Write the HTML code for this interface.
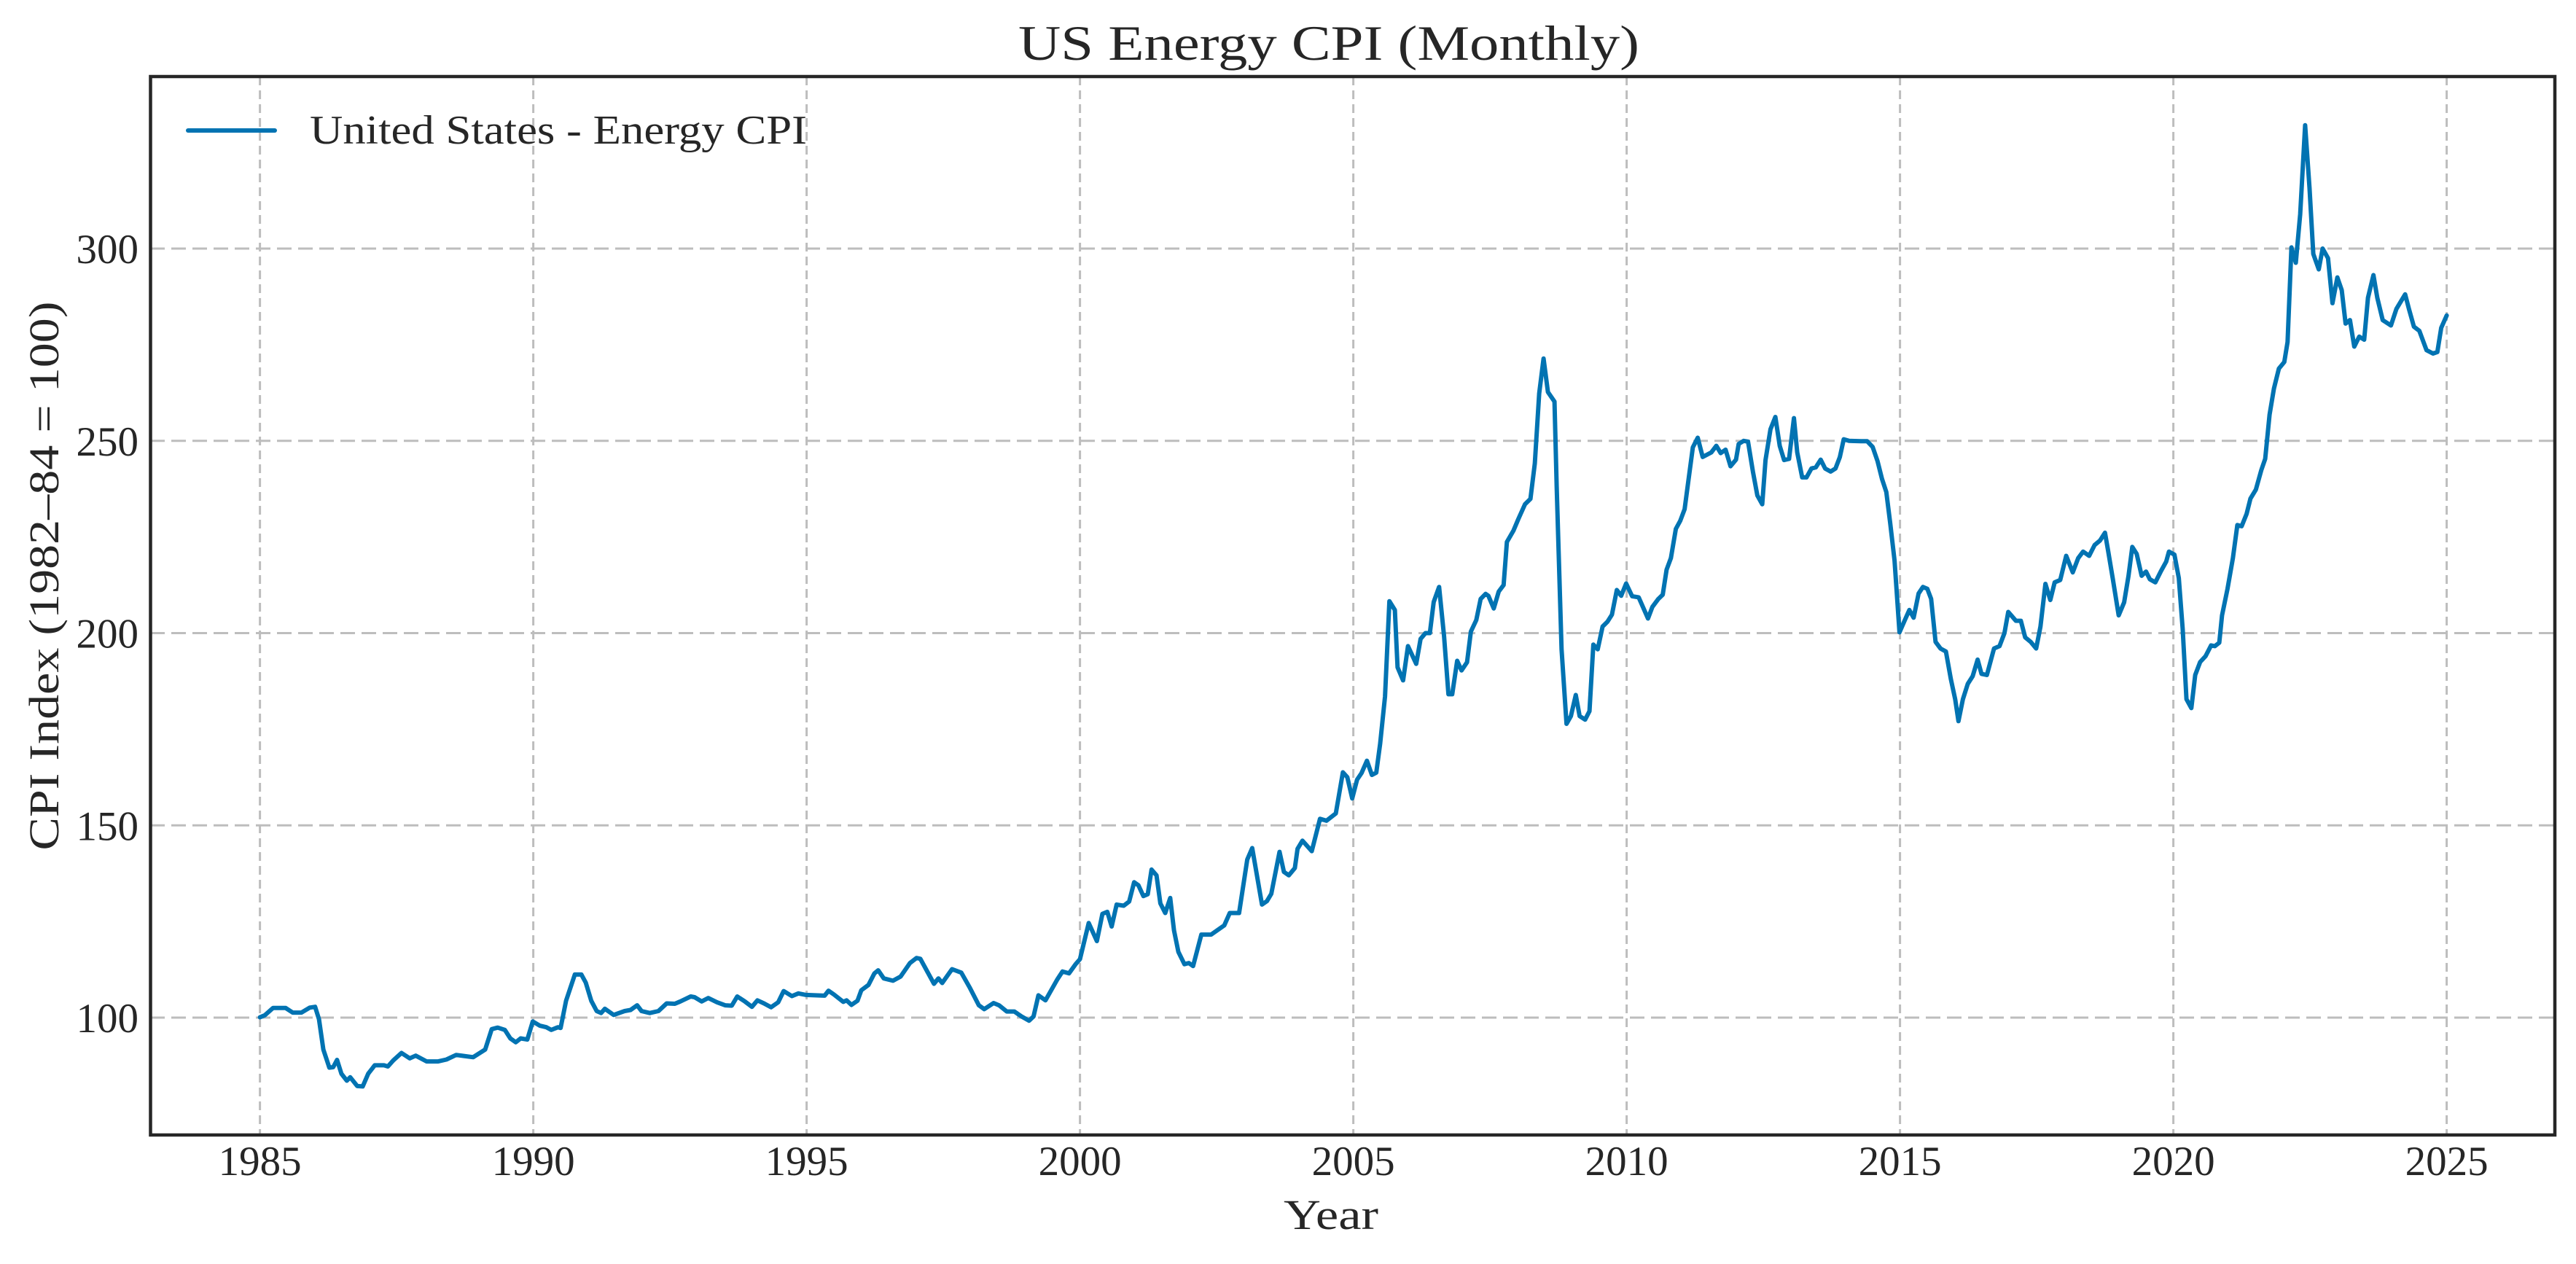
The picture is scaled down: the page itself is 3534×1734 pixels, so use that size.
<!DOCTYPE html>
<html><head><meta charset="utf-8"><style>
html,body{margin:0;padding:0;background:#fff;}
svg{display:block;font-family:"Liberation Serif",serif;}
</style></head><body>
<svg id="chart" width="3534" height="1734" viewBox="0 0 3534 1734" xmlns="http://www.w3.org/2000/svg">
<rect width="3534" height="1734" fill="#fff"/>
<g id="grid"></g>
<g id="ticks"></g>
<path id="series" fill="none" stroke="#0173b2" stroke-width="6" stroke-linejoin="round" stroke-linecap="round"/>
<rect x="206.5" y="105" width="3298.5" height="1452" fill="none" stroke="#262626" stroke-width="4.5"/>
<text x="1823" y="82" font-size="68" text-anchor="middle" fill="#262626" textLength="852" lengthAdjust="spacingAndGlyphs">US Energy CPI (Monthly)</text>
<text x="1826" y="1686" font-size="58" text-anchor="middle" fill="#262626" textLength="130" lengthAdjust="spacingAndGlyphs">Year</text>
<text x="0" y="0" font-size="58" text-anchor="middle" fill="#262626" textLength="753" lengthAdjust="spacingAndGlyphs" transform="translate(80,790) rotate(-90)">CPI Index (1982–84 = 100)</text>
<g>
<line x1="258" y1="179" x2="377" y2="179" stroke="#0173b2" stroke-width="6" stroke-linecap="round"/>
<text x="425" y="197" font-size="56" fill="#262626" textLength="682" lengthAdjust="spacingAndGlyphs">United States - Energy CPI</text>
</g>
</svg>
<script>
const dates = [1985.0,1985.09,1985.24,1985.47,1985.6,1985.76,1985.91,1986.01,1986.08,1986.16,1986.27,1986.34,1986.41,1986.49,1986.59,1986.65,1986.78,1986.88,1986.98,1987.1,1987.27,1987.34,1987.44,1987.59,1987.74,1987.85,1988.05,1988.26,1988.41,1988.59,1988.9,1989.12,1989.24,1989.35,1989.48,1989.58,1989.68,1989.77,1989.89,1989.99,1990.12,1990.24,1990.33,1990.45,1990.5,1990.6,1990.76,1990.88,1990.96,1991.06,1991.16,1991.24,1991.31,1991.47,1991.67,1991.78,1991.9,1991.98,1992.13,1992.29,1992.44,1992.59,1992.69,1992.88,1992.95,1993.08,1993.2,1993.36,1993.51,1993.63,1993.73,1993.87,1994.0,1994.1,1994.22,1994.35,1994.48,1994.58,1994.73,1994.85,1994.99,
1995.33,1995.4,1995.5,1995.67,1995.73,1995.82,1995.93,1996.0,1996.13,1996.24,1996.31,1996.41,1996.58,1996.72,1996.89,1997.01,1997.08,1997.33,1997.41,1997.48,1997.66,1997.83,1997.98,1998.15,1998.25,1998.42,1998.52,1998.66,1998.8,1998.93,1999.07,1999.15,1999.24,1999.37,1999.58,1999.68,1999.8,1999.92,2000.0,2000.16,2000.31,2000.41,2000.5,2000.58,2000.67,2000.8,2000.9,2000.99,2001.07,2001.16,2001.24,2001.31,2001.4,2001.47,2001.56,2001.65,2001.72,2001.8,2001.91,2001.99,2002.07,2002.22,2002.4,2002.64,2002.74,2002.91,2003.06,2003.15,2003.33,2003.42,2003.5,2003.65,2003.73,2003.82,2003.93,2003.98,2004.07,2004.24,2004.39,2004.51,2004.68,2004.81,2004.89,2004.98,
2005.07,2005.15,2005.25,2005.34,2005.42,2005.49,2005.58,2005.66,2005.76,2005.81,2005.91,2006.0,2006.15,2006.23,2006.32,2006.4,2006.47,2006.57,2006.66,2006.74,2006.81,2006.9,2006.98,2007.08,2007.15,2007.25,2007.33,2007.42,2007.47,2007.57,2007.66,2007.75,2007.81,2007.93,2008.02,2008.14,2008.24,2008.32,2008.4,2008.48,2008.56,2008.68,2008.72,2008.81,2008.9,2008.98,2009.07,2009.14,2009.24,2009.32,2009.39,2009.47,2009.56,2009.65,2009.73,2009.82,2009.9,2009.99,2010.1,2010.22,2010.39,2010.47,2010.58,2010.66,2010.73,2010.81,2010.9,2010.98,2011.06,2011.13,2011.21,2011.3,2011.39,2011.55,2011.64,2011.72,2011.81,2011.9,2012.0,2012.05,2012.14,2012.22,2012.31,2012.39,2012.48,2012.54,2012.63,2012.72,2012.8,2012.88,2012.97,2013.06,2013.12,2013.21,2013.29,2013.38,2013.46,2013.55,2013.63,2013.73,2013.82,2013.9,2013.97,
2014.07,2014.29,2014.4,2014.5,2014.59,2014.67,2014.75,2014.82,2014.9,2014.99,2015.09,2015.17,2015.25,2015.34,2015.42,2015.5,2015.57,2015.65,2015.74,2015.84,2015.93,2016.01,2016.07,2016.15,2016.24,2016.33,2016.42,2016.49,2016.59,2016.72,2016.82,2016.91,2016.98,2017.12,2017.21,2017.29,2017.39,2017.49,2017.57,2017.66,2017.75,2017.83,2017.93,2018.04,2018.16,2018.26,2018.35,2018.46,2018.56,2018.66,2018.75,2018.81,2018.89,2019.0,2019.1,2019.18,2019.25,2019.33,2019.42,2019.5,2019.57,2019.67,2019.77,2019.87,2019.92,2020.02,2020.1,2020.17,2020.24,2020.33,2020.4,2020.49,2020.59,2020.69,2020.76,2020.84,2020.89,2020.99,2021.09,2021.17,2021.25,2021.34,2021.41,2021.51,2021.61,2021.68,2021.76,2021.84,2021.93,2022.03,2022.09,2022.16,2022.24,2022.32,2022.41,2022.49,2022.56,2022.66,2022.73,2022.83,2022.91,2023.0,2023.08,2023.15,2023.23,2023.31,2023.4,2023.49,2023.56,2023.66,2023.73,2023.83,2023.98,2024.08,2024.24,2024.31,2024.4,2024.5,2024.63,2024.75,2024.83,2024.9,2025.0];
const values = [100.1,100.6,102.5,102.5,101.3,101.3,102.6,102.8,99.6,91.7,87,87.1,89,85.4,83.6,84.5,82.2,82.1,85.4,87.6,87.6,87.3,88.9,90.8,89.4,90.1,88.6,88.6,89.1,90.3,89.7,91.7,97,97.4,96.8,94.6,93.6,94.6,94.3,99,97.9,97.5,96.8,97.5,97.3,104.4,111.2,111.2,109.1,104.4,101.7,101.2,102.3,100.7,101.7,102,103.2,101.7,101.2,101.7,103.7,103.6,104.2,105.5,105.3,104.2,105.1,104,103.2,103.1,105.5,104.2,102.8,104.5,103.7,102.7,104,106.9,105.6,106.3,105.9,
105.7,107,106,104.1,104.5,103.3,104.4,107.1,108.5,111.5,112.3,110.2,109.6,110.7,114.2,115.5,115.3,108.8,110.2,109,112.6,111.7,107.9,103.2,102.2,103.8,103.2,101.6,101.6,100.3,99.2,100.3,105.8,104.5,109.8,112,111.5,113.9,115.2,124.6,119.9,127,127.5,123.7,129.4,129.1,130.2,135.2,134.4,131.6,132.1,138.5,137,129.7,127.2,131.1,122.7,117.1,113.9,114.2,113.4,121.6,121.6,124,127.2,127.2,141.1,144.1,129.4,130.3,132.2,143.1,137.9,137,138.9,143.9,146,143.3,151.7,151.2,153.1,163.8,162.5,157,
161.9,163.6,166.8,163.1,163.7,171.2,183.5,208.3,206,191.1,187.7,196.6,192,198.5,200,200,208.1,212,199.2,184.1,184.1,192.8,190.3,192.4,200.4,203.4,208.9,210.2,209.7,206.4,210.8,212.5,223.7,226.7,229.7,233.5,234.9,244.1,262.3,271.4,262.7,260.2,238.1,195.8,176.4,178.4,183.9,178.4,177.5,179.7,197,195.8,201.7,203,204.8,211.2,209.7,212.9,209.6,209.3,203.8,206.8,208.9,210,216.5,219.5,227.1,229.2,232.2,239.8,248.3,250.8,245.8,247,248.7,246.8,247.7,243.4,245.1,249.2,250,249.8,242,235.8,233.5,245,253,256.2,248.7,245,245.3,255.9,247,240.5,240.5,242.8,243.1,245.1,242.8,242,242.8,245.8,250.4,
250,249.9,249.9,248.4,244.7,240.1,236.7,228.7,218.9,200.2,203.4,206,204,210.3,212,211.5,208.9,197.7,196,195.2,188,182.8,177.1,182.8,186.8,188.8,193.1,189.4,189.1,196,196.6,200,205.5,203.2,203.2,198.9,197.7,196,201.7,212.8,208.6,213.2,213.8,220.1,215.8,219.5,221.2,220.1,222.9,224.1,226.1,221.2,214.3,204.6,208,214.9,222.4,220.6,214.9,216,214,213.2,216,218.6,221.2,220.4,214.3,201.1,182.8,180.5,189.1,192.5,194,196.8,196.6,197.5,204.6,211.5,219.5,228.1,227.8,231,235,237.3,242.4,245.3,256.8,263.6,268.8,270.5,275.7,300.3,296.3,308.9,332.1,315.8,298.6,294.6,300,297.5,285.8,292.5,289.2,280.5,281.4,274.5,277.1,276.3,287.2,293.1,287.2,281.4,280,284.3,288.1,284.3,279.7,278.6,273.6,272.7,273.1,279.4,282.6];
const xTicks = [1985,1990,1995,2000,2005,2010,2015,2020,2025];
const yTicks = [100,150,200,250,300];

const NS = "http://www.w3.org/2000/svg";
function xs(yr){ return 356.6 + (yr - 1985) * 75.0; }
function ys(v){ return 1396 - (v - 100) * 5.275; }
const grid = document.getElementById('grid');
const ticks = document.getElementById('ticks');
xTicks.forEach(t => {
  const l = document.createElementNS(NS,'line');
  
  
  l.setAttribute('x1', xs(t)); l.setAttribute('x2', xs(t));
  l.setAttribute('y1', 105); l.setAttribute('y2', 1557);
  l.setAttribute('stroke', '#bdbdbd'); l.setAttribute('stroke-width', 3); l.setAttribute('stroke-dasharray', '12 7');
  grid.appendChild(l);
  const tx = document.createElementNS(NS,'text');
  
  
  tx.setAttribute('x', xs(t)); tx.setAttribute('y', 1612);
  tx.setAttribute('font-size', 57); tx.setAttribute('text-anchor', 'middle'); tx.setAttribute('fill', '#262626');
  tx.textContent = t;
  ticks.appendChild(tx);
});
yTicks.forEach(t => {
  const l = document.createElementNS(NS,'line');
  
  
  l.setAttribute('x1', 206); l.setAttribute('x2', 3505);
  l.setAttribute('y1', ys(t)); l.setAttribute('y2', ys(t));
  l.setAttribute('stroke', '#bdbdbd'); l.setAttribute('stroke-width', 3); l.setAttribute('stroke-dasharray', '20 9');
  grid.appendChild(l);
  const tx = document.createElementNS(NS,'text');
  
  
  tx.setAttribute('x', 190); tx.setAttribute('y', ys(t) + 20);
  tx.setAttribute('font-size', 57); tx.setAttribute('text-anchor', 'end'); tx.setAttribute('fill', '#262626');
  tx.textContent = t;
  ticks.appendChild(tx);
});
let d = '';
for (let i = 0; i < dates.length; i++) {
  d += (i ? 'L' : 'M') + xs(dates[i]).toFixed(1) + ' ' + ys(values[i]).toFixed(1);
}
document.getElementById('series').setAttribute('d', d);
</script>
</body></html>
